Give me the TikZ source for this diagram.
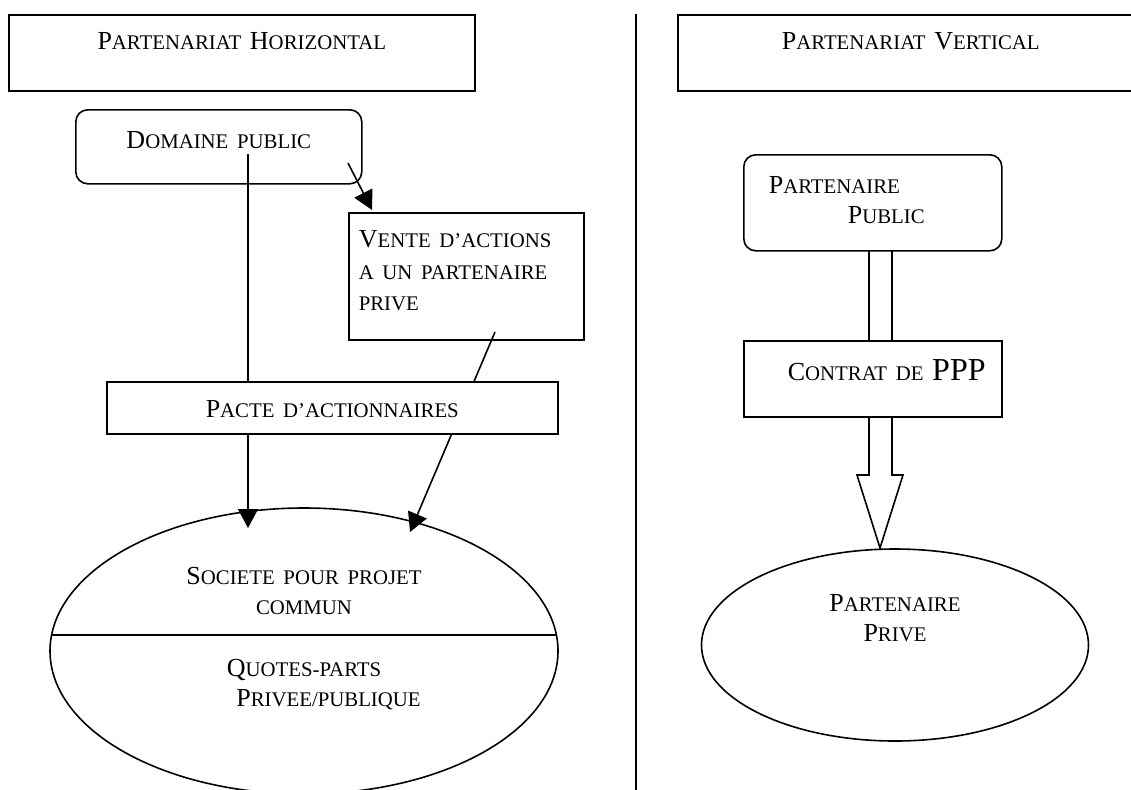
\documentclass[tikz,border=0pt]{standalone}
\usepackage{fontspec}
\setmainfont{Liberation Serif}
\usetikzlibrary{scopes,shapes.geometric,arrows.meta}

% small capitals done by hand (Liberation Serif has none)
\newcommand{\lowcaps}[1]{{\fontsize{10.4pt}{15pt}\selectfont #1}}

\begin{document}
\begin{tikzpicture}[
    x=0.5pt, y=-0.5pt,
    line width=0.8pt,
    every node/.style={font=\fontsize{13pt}{15pt}\selectfont,inner sep=0pt},
    box/.style={rectangle,draw,anchor=north west,align=left},
    rbox/.style={box,rounded corners=6pt},
    oval/.style={ellipse,draw,align=center,text height=0pt},
    link/.style={-{Triangle[length=9.5pt,width=10pt]}},
    hollow/.style={line join=miter},
]
    \useasboundingbox (0,0) rectangle (1131,789);

    %%%
    % Horizontal partnership
    \node[box,align=center,text width=233pt,text height=17.5pt,text depth=20.5pt] (hor) at (8,14)
        {P\lowcaps{ARTENARIAT} H\lowcaps{ORIZONTAL}};
    \node[rbox,align=center,text width=143pt,text height=19.5pt,text depth=17.5pt] (dom) at (75,109)
        {D\lowcaps{OMAINE PUBLIC}};
    \node[box,inner xsep=5pt,text width=107.5pt,text height=17.5pt,text depth=46pt,
          font=\fontsize{13pt}{15.75pt}\selectfont] (vente) at (348,212)
        {V\lowcaps{ENTE D’ACTIONS}\\\lowcaps{A UN PARTENAIRE}\\\lowcaps{PRIVE}};

    \coordinate (d1) at (248,154);
    \coordinate (d1tip) at (248,528);
    \coordinate (d2) at (348,163);
    \coordinate (d2tip) at (372,210);
    \coordinate (v1) at (495,332);
    \coordinate (v1tip) at (410,532);
    {[link]
        \draw (d1) -- (d1tip);
        \draw (d2) -- (d2tip);
        \draw (v1) -- (v1tip);
    }

    \node[box,fill=white,align=center,text width=225.5pt,text height=18pt,text depth=8pt] (pacte) at (106,381)
        {P\lowcaps{ACTE D’ACTIONNAIRES}};
    \node[oval,minimum width=254pt,minimum height=143pt,text width=160pt,text depth=67pt] (soc) at (304,651)
        {S\lowcaps{OCIETE POUR PROJET}\\\lowcaps{COMMUN}\\[16pt]
         Q\lowcaps{UOTES-PARTS}\\\hspace*{24.5pt}P\lowcaps{RIVEE/PUBLIQUE}};
    \coordinate (s1) at (51.6,635);
    \coordinate (s2) at (556.4,635);
    \draw (s1) -- (s2);

    % separation
    \draw (636,14) -- (636,795);

    %%%
    % Vertical partnership
    \node[box,align=center,text width=233pt,text height=17.5pt,text depth=20.5pt] (ver) at (677,14)
        {P\lowcaps{ARTENARIAT} V\lowcaps{ERTICAL}};
    \node[rbox,inner xsep=12.5pt,text width=104pt,text height=19.5pt,text depth=28.5pt] (pub) at (743,154)
        {P\lowcaps{ARTENAIRE}\\\hspace*{39.5pt}P\lowcaps{UBLIC}};
    \node[box,inner xsep=22pt,text width=85pt,text height=20pt,text depth=18pt] (ppp) at (743,340)
        {\mbox{C\lowcaps{ONTRAT DE} {\fontsize{16pt}{16pt}\selectfont PPP}}};
    \node[oval,minimum width=193.5pt,minimum height=96pt,text width=120pt,text depth=34pt] (prive) at (895,645)
        {P\lowcaps{ARTENAIRE}\\P\lowcaps{RIVE}};

    {[hollow]
        \draw (869,250) -- (869,340);
        \draw (892,250) -- (892,340);
        \draw (869,416) -- (869,475) -- (857,475) -- (880,548) -- (903,475) -- (892,475) -- (892,416);
    }
\end{tikzpicture}
\end{document}
